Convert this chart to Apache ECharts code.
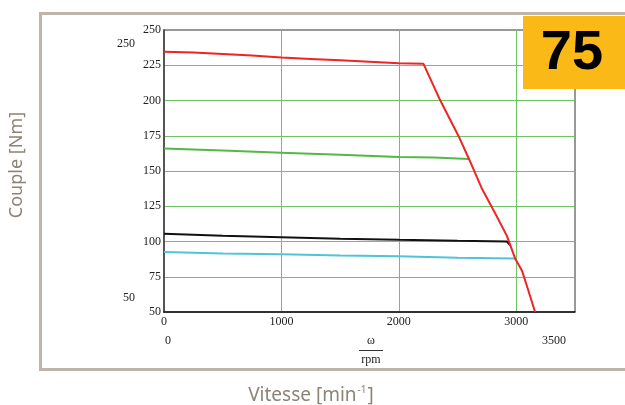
<!DOCTYPE html>
<html>
<head>
<meta charset="utf-8">
<script src="https://cdn.jsdelivr.net/npm/echarts@6/dist/echarts.min.js"></script>
<style>
html,body{margin:0;padding:0;background:#fff;}
#c{width:625px;height:405px;}
</style>
</head>
<body>
<div id="c"></div>
<script>
// Speed axis ticks and range
var xMin = 0, xMax = 3500, xStep = 1000;
var yMin = 50, yMax = 250, yStep = 25;

// Red curve (peak torque + field weakening)
var redRpm    = [0, 250, 500, 750, 1000, 1250, 1500, 1750, 2000, 2210, 2350, 2510, 2600, 2710, 2820, 2920, 2990, 3050, 3100, 3160];
var redTorque = [234.5, 234, 233, 232, 230.5, 229.5, 228.5, 227.5, 226.5, 226, 200.5, 174.5, 158, 137, 120, 104, 88, 79, 66, 50];

// Green curve
var greenRpm    = [0, 500, 1000, 1500, 2000, 2300, 2595];
var greenTorque = [166, 164.5, 163, 161.5, 160, 159.5, 158.5];

// Black curve
var blackRpm    = [0, 500, 1000, 1500, 2000, 2500, 2920, 2950];
var blackTorque = [105.5, 104, 103, 102, 101.2, 100.5, 100, 97];

// Cyan curve
var cyanRpm    = [0, 500, 1000, 1500, 2000, 2500, 2985, 2995];
var cyanTorque = [92.5, 91.5, 91, 90, 89.5, 88.5, 88, 87];

function pairs(xs, ys) {
  var out = [];
  for (var i = 0; i < xs.length; i++) out.push([xs[i], ys[i]]);
  return out;
}

var serif = '"Liberation Serif", "DejaVu Serif", serif';
var sans = '"Noto Sans", "Open Sans", sans-serif';
var gridGreen = '#6cc462';

var chart = echarts.init(document.getElementById('c'));
chart.setOption({
  animation: false,
  backgroundColor: '#ffffff',
  grid: {
    left: 164, top: 30, right: 50, bottom: 93,
    show: true, borderColor: '#333', borderWidth: 1, backgroundColor: 'transparent'
  },
  xAxis: {
    type: 'value', min: xMin, max: xMax, interval: xStep,
    axisLine: { show: true, onZero: false, lineStyle: { color: '#111', width: 1.5 } },
    axisTick: { show: false },
    axisLabel: { fontFamily: serif, fontSize: 12, color: '#222', margin: 4, showMaxLabel: false,
      formatter: function (v) { return String(v); } },
    splitLine: { show: true, showMinLine: false, showMaxLine: false, lineStyle: { color: gridGreen, width: 1 } }
  },
  yAxis: {
    type: 'value', min: yMin, max: yMax, interval: yStep,
    axisLine: { show: true, onZero: false, lineStyle: { color: '#555', width: 2 } },
    axisTick: { show: false },
    axisLabel: { fontFamily: serif, fontSize: 12, color: '#222', margin: 3 },
    splitLine: { show: true, showMinLine: false, showMaxLine: false, lineStyle: { color: gridGreen, width: 1 } }
  },
  series: [
    { type: 'line', data: pairs(cyanRpm, cyanTorque), symbol: 'none', lineStyle: { color: '#4fc4d9', width: 2 }, z: 3 },
    { type: 'line', data: pairs(blackRpm, blackTorque), symbol: 'none', lineStyle: { color: '#111111', width: 2 }, z: 3 },
    { type: 'line', data: pairs(greenRpm, greenTorque), symbol: 'none', lineStyle: { color: '#52b848', width: 2 }, z: 3 },
    { type: 'line', data: pairs(redRpm, redTorque), symbol: 'none', lineStyle: { color: '#f02424', width: 2 }, z: 4 }
  ],
  graphic: [
    { type: 'rect', z: 0, silent: true,
      shape: { x: 40.5, y: 13.5, width: 700, height: 356 },
      style: { fill: 'none', stroke: '#bdb5a9', lineWidth: 3 } },
    { type: 'rect', z: 100, shape: { x: 523, y: 16, width: 102, height: 73 },
      style: { fill: '#fbb918' } },
    { type: 'text', z: 101, x: 572, y: 54,
      style: { text: '75', fontFamily: '"Liberation Sans", Arial, sans-serif', fontWeight: 'bold', fontSize: 56,
        fill: '#000', textAlign: 'center', textVerticalAlign: 'middle' } },
    { type: 'text', x: 126, y: 44,
      style: { text: '250', fontFamily: serif, fontSize: 12, fill: '#222', textAlign: 'center', textVerticalAlign: 'middle' } },
    { type: 'text', x: 129, y: 298,
      style: { text: '50', fontFamily: serif, fontSize: 12, fill: '#222', textAlign: 'center', textVerticalAlign: 'middle' } },
    { type: 'text', x: 168, y: 341,
      style: { text: '0', fontFamily: serif, fontSize: 12, fill: '#222', textAlign: 'center', textVerticalAlign: 'middle' } },
    { type: 'text', x: 554, y: 341,
      style: { text: '3500', fontFamily: serif, fontSize: 12, fill: '#222', textAlign: 'center', textVerticalAlign: 'middle' } },
    { type: 'text', x: 371, y: 341,
      style: { text: 'ω', fontFamily: serif, fontSize: 12, fill: '#222', textAlign: 'center', textVerticalAlign: 'middle' } },
    { type: 'line', shape: { x1: 359, y1: 350.5, x2: 383, y2: 350.5 }, style: { stroke: '#333', lineWidth: 1 } },
    { type: 'text', x: 371, y: 360,
      style: { text: 'rpm', fontFamily: serif, fontSize: 12, fill: '#222', textAlign: 'center', textVerticalAlign: 'middle' } },
    { type: 'text', x: 17, y: 165, rotation: Math.PI / 2,
      style: { text: 'Couple [Nm]', fontFamily: sans, fontSize: 18, fill: '#8d8478', textAlign: 'center', textVerticalAlign: 'middle' } },
    { type: 'text', x: 311, y: 396,
      style: {
        text: '{a|Vitesse [min}{s|-1}{a|]}',
        textAlign: 'center', textVerticalAlign: 'middle',
        rich: {
          a: { fontFamily: sans, fontSize: 19, fill: '#8d8478', color: '#8d8478', lineHeight: 22 },
          s: { fontFamily: sans, fontSize: 10, fill: '#8d8478', color: '#8d8478', lineHeight: 22, verticalAlign: 'top', padding: [0, 1, 10, 1] }
        }
      } }
  ]
});
</script>
</body>
</html>
